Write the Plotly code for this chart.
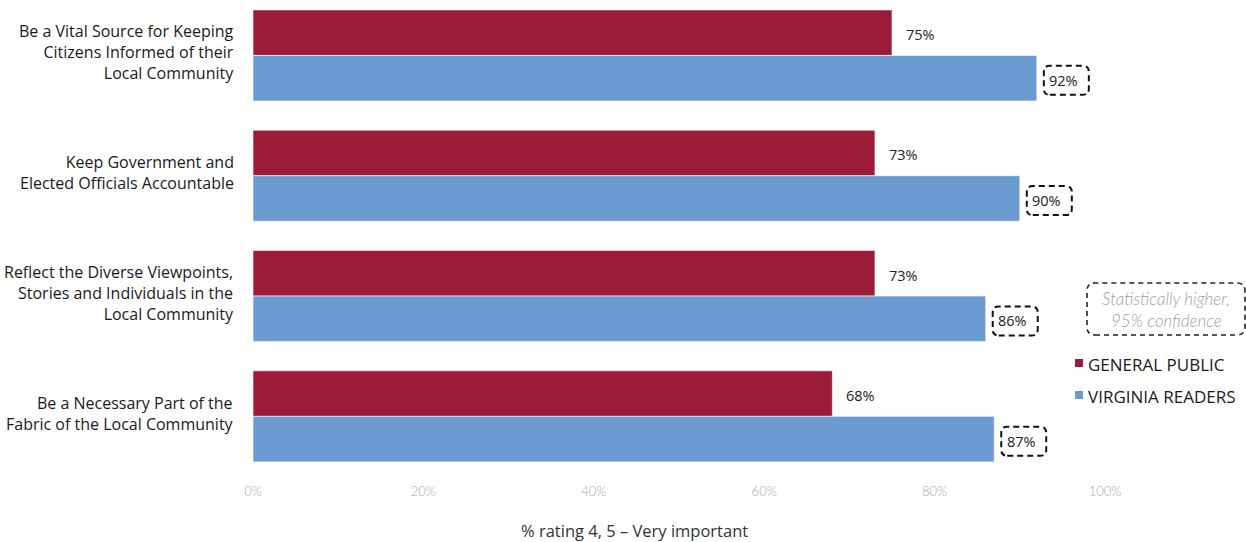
import plotly.graph_objects as go

categories = [
    "Be a Vital Source for Keeping<br>Citizens Informed of their<br>Local Community",
    "Keep Government and<br>Elected Officials Accountable",
    "Reflect the Diverse Viewpoints,<br>Stories and Individuals in the<br>Local Community",
    "Be a Necessary Part of the<br>Fabric of the Local Community",
]
general_public = [75, 73, 73, 68]
virginia_readers = [92, 90, 86, 87]
series_names = ["GENERAL PUBLIC", "VIRGINIA READERS"]
colors = ["#9C1B36", "#6B9BD1"]
x_ticks = [0, 20, 40, 60, 80, 100]
x_title = "% rating 4, 5 – Very important"
note_lines = ["Statistically higher,", "95% confidence"]

W, H = 1246, 542
L, R, T, B = 253, 141, 0, 72
PW, PH = W - L - R, H - T - B

def px2paper(px, py):
    return (px - L) / PW, (H - B - py) / PH

idx = list(range(len(categories)))
fig = go.Figure()
for name, vals, col in zip(series_names, [general_public, virginia_readers], colors):
    fig.add_trace(go.Bar(
        y=idx, x=vals, name=name, orientation="h",
        marker=dict(color=col, line=dict(color="white", width=0.6)),
        showlegend=False, hoverinfo="x",
    ))

off = 0.19
font_main = "Open Sans, Liberation Sans, sans-serif"
ann = []
shapes = []

def rounded_path(x0, y0, x1, y1, r):
    return (f"M{x0+r},{y0} L{x1-r},{y0} Q{x1},{y0} {x1},{y0+r} "
            f"L{x1},{y1-r} Q{x1},{y1} {x1-r},{y1} L{x0+r},{y1} "
            f"Q{x0},{y1} {x0},{y1-r} L{x0},{y0+r} Q{x0},{y0} {x0+r},{y0} Z")

for i in idx:
    ann.append(dict(x=0, y=i, xref="paper", yref="y",
                    text=categories[i], showarrow=False, align="right",
                    xanchor="right", yanchor="middle", xshift=-17, yshift=3,
                    font=dict(size=16, color="#1a1a1a", family=font_main)))
    ann.append(dict(x=general_public[i], y=i - off, xref="x", yref="y",
                    text=f"{general_public[i]}%", showarrow=False,
                    xanchor="left", yanchor="middle", xshift=12, yshift=-2,
                    font=dict(size=14.5, color="#222", family=font_main)))
    ann.append(dict(x=virginia_readers[i], y=i + off, xref="x", yref="y",
                    text=f"{virginia_readers[i]}%", showarrow=False,
                    xanchor="center", yanchor="middle", xshift=27, yshift=-2,
                    font=dict(size=14.5, color="#222", family=font_main)))
    shapes.append(dict(type="path", xref="x", yref="y",
                       xsizemode="pixel", ysizemode="pixel",
                       xanchor=virginia_readers[i], yanchor=i + off,
                       path=rounded_path(7, -16.5, 52, 12.5, 6),
                       line=dict(color="#111", width=2, dash="6px,4px")))

# note box
nx0, ny0 = px2paper(1087, 335)
nx1, ny1 = px2paper(1245, 283)
rx, ry = 8 / PW, 8 / PH
shapes.append(dict(type="path", xref="paper", yref="paper",
                   path=(f"M{nx0+rx},{ny0} L{nx1-rx},{ny0} Q{nx1},{ny0} {nx1},{ny0+ry} "
                         f"L{nx1},{ny1-ry} Q{nx1},{ny1} {nx1-rx},{ny1} L{nx0+rx},{ny1} "
                         f"Q{nx0},{ny1} {nx0},{ny1-ry} L{nx0},{ny0+ry} Q{nx0},{ny0} {nx0+rx},{ny0} Z"),
                   line=dict(color="#222", width=1.6, dash="5px,4px")))
for line_txt, py in zip(note_lines, [298, 321]):
    xx, yy = px2paper(1166, py)
    ann.append(dict(x=xx, y=yy, xref="paper", yref="paper", text=f"<i>{line_txt}</i>",
                    showarrow=False, xanchor="center", yanchor="middle",
                    font=dict(size=17, color="#A0A0A0", family="Lato, sans-serif", weight=300)))

# legend
for name, col, py in zip(series_names, colors, [363, 395]):
    sx0, sy0 = px2paper(1075, py + 4)
    sx1, sy1 = px2paper(1083, py - 4)
    shapes.append(dict(type="rect", xref="paper", yref="paper",
                       x0=sx0, x1=sx1, y0=sy0, y1=sy1,
                       fillcolor=col, line=dict(width=0)))
    tx, ty = px2paper(1086, py + 1)
    ann.append(dict(x=tx, y=ty, xref="paper", yref="paper", text=name,
                    showarrow=False, xanchor="left", yanchor="middle",
                    font=dict(size=17, color="#1a1a1a", family=font_main)))

# x-axis title
tx, ty = px2paper(634, 530)
ann.append(dict(x=tx, y=ty, xref="paper", yref="paper", text=x_title,
                showarrow=False, xanchor="center", yanchor="middle",
                font=dict(size=16.5, color="#333", family=font_main)))

fig.update_layout(
    width=W, height=H,
    margin=dict(l=L, r=R, t=T, b=B),
    paper_bgcolor="white", plot_bgcolor="white",
    barmode="group", bargap=0.243, bargroupgap=0,
    annotations=ann, shapes=shapes,
    xaxis=dict(range=[0, 100], tickvals=x_ticks, ticktext=[f"{v}%" for v in x_ticks],
               showgrid=False, zeroline=False, showline=False, ticks="",
               ticklabelstandoff=12,
               tickfont=dict(size=13, color="#A8A8A8", family="Lato, sans-serif", weight=300)),
    yaxis=dict(tickvals=idx, showticklabels=False, range=[3.446, -0.461],
               showgrid=False, zeroline=False, showline=False, ticks=""),
)

fig.write_html("out.html")
